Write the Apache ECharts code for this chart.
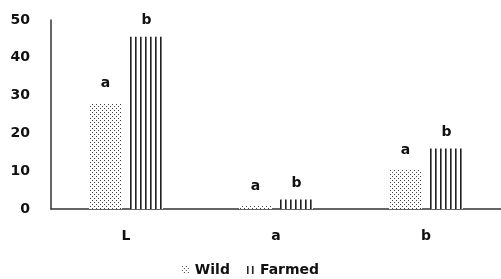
<!DOCTYPE html>
<html>
<head>
<meta charset="utf-8">
<script src="https://cdn.jsdelivr.net/npm/echarts@6/dist/echarts.min.js"></script>
<style>
  html, body { margin: 0; padding: 0; background: #fff; }
  #main { width: 501px; height: 279px; }
</style>
</head>
<body>
<div id="main"></div>
<script>
// data
var categories = ['L', 'a', 'b'];
var wildValues = [28, 0.8, 10.3];
var farmedValues = [45.6, 2.5, 16];
var wildLetters = ['a', 'a', 'a'];
var farmedLetters = ['b', 'b', 'b'];
var yTicks = [0, 10, 20, 30, 40, 50];

// fill patterns
function dotPattern() {
    var c = document.createElement('canvas');
    c.width = 4; c.height = 4;
    var ctx = c.getContext('2d');
    ctx.fillStyle = '#fff';
    ctx.fillRect(0, 0, 4, 4);
    ctx.fillStyle = '#444';
    ctx.fillRect(0, 0, 1, 1);
    ctx.fillRect(2, 2, 1, 1);
    return c;
}
function linePattern() {
    var c = document.createElement('canvas');
    c.width = 5; c.height = 4;
    var ctx = c.getContext('2d');
    ctx.fillStyle = '#fff';
    ctx.fillRect(0, 0, 5, 4);
    ctx.fillStyle = '#222';
    ctx.fillRect(0, 0, 1, 4);
    ctx.fillStyle = '#777';
    ctx.fillRect(1, 0, 1, 4);
    return c;
}

var font = 'DejaVu Sans';
var labelStyle = { fontFamily: font, fontWeight: 'bold', fontSize: 14, color: '#111' };

var myChart = echarts.init(document.getElementById('main'));
var option = {
    animation: false,
    backgroundColor: '#fff',
    grid: { left: 51, right: 0, top: 20, bottom: 70 },
    legend: {
        bottom: 2,
        padding: 0,
        left: 'center',
        icon: 'rect',
        itemWidth: 8,
        itemHeight: 8,
        itemGap: 17,
        textStyle: { fontFamily: font, fontWeight: 'bold', fontSize: 14, color: '#111' },
        data: ['Wild', 'Farmed']
    },
    xAxis: {
        type: 'category',
        data: categories,
        axisLine: { lineStyle: { color: '#333', width: 1.5 } },
        axisTick: { show: false },
        axisLabel: { margin: 20, fontFamily: font, fontWeight: 'bold', fontSize: 14, color: '#111' }
    },
    yAxis: {
        type: 'value',
        min: yTicks[0],
        max: yTicks[yTicks.length - 1],
        interval: 10,
        axisLine: { show: true, lineStyle: { color: '#333', width: 1.5 } },
        axisTick: { show: false },
        splitLine: { show: false },
        axisLabel: { margin: 21, fontFamily: font, fontWeight: 'bold', fontSize: 14, color: '#111' }
    },
    series: [
        {
            name: 'Wild',
            type: 'bar',
            data: wildValues,
            barWidth: 33,
            barGap: '24%',
            itemStyle: { color: { image: dotPattern(), repeat: 'repeat' } },
            label: {
                show: true, position: 'top', distance: 13,
                formatter: function (p) { return wildLetters[p.dataIndex]; }
            }
        },
        {
            name: 'Farmed',
            type: 'bar',
            data: farmedValues,
            barWidth: 33,
            itemStyle: { color: { image: linePattern(), repeat: 'repeat' } },
            label: {
                show: true, position: 'top', distance: 9,
                formatter: function (p) { return farmedLetters[p.dataIndex]; }
            }
        }
    ]
};
option.series.forEach(function (s) { Object.assign(s.label, labelStyle); });
myChart.setOption(option);
</script>
</body>
</html>
